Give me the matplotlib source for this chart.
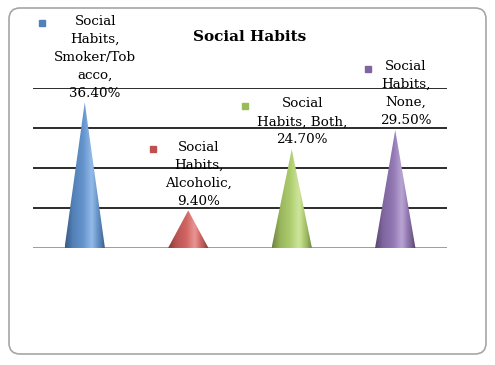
import matplotlib
matplotlib.use("Agg")
import matplotlib.pyplot as plt
import numpy as np
from matplotlib.patches import Polygon, FancyBboxPatch
from matplotlib.colors import to_rgb
from matplotlib.lines import Line2D

title = "Social Habits"
series_name = "Social Habits"
categories = ["Smoker/Tobacco", "Alcoholic", "Both", "None"]
values = [36.40, 9.40, 24.70, 29.50]
label_texts = [
    "Social\nHabits,\nSmoker/Tob\nacco,\n36.40%",
    "Social\nHabits,\nAlcoholic,\n9.40%",
    "Social\nHabits, Both,\n24.70%",
    "Social\nHabits,\nNone,\n29.50%",
]
colors = ["#4F81BD", "#C0504D", "#9BBB59", "#8064A2"]
grid_values = [10, 20, 30, 40]

W, H, DPI = 495, 365, 100
fig = plt.figure(figsize=(W / DPI, H / DPI), dpi=DPI)
fig.patch.set_facecolor("white")

# rounded outer frame (inches)
frame = FancyBboxPatch((0.09, (H - 354) / DPI), 4.77, 3.46,
                       boxstyle="round,pad=0,rounding_size=0.11",
                       transform=fig.dpi_scale_trans, facecolor="white",
                       edgecolor="#a6a6a6", linewidth=1.2, zorder=0)
fig.add_artist(frame)

ax = fig.add_axes([33 / W, 1 - 248 / H, (447 - 33) / W, (248 - 88) / H])
ax.set_facecolor("none")
ax.set_xlim(-0.5, len(values) - 0.5)
ax.set_ylim(0, 40)
for s in ax.spines.values():
    s.set_visible(False)
ax.set_xticks([])
ax.set_yticks([])

for g in grid_values:
    ax.axhline(g, color="#1a1a1a", lw=1.3, zorder=1)
ax.axhline(0, color="#8c8c8c", lw=1.2, zorder=1)

half = 0.195
t = np.linspace(0, 1, 200)
for i, (v, c) in enumerate(zip(values, colors)):
    base = np.array(to_rgb(c))
    shade = np.interp(t, [0, 0.2, 0.5, 0.68, 0.85, 1.0], [0.7, 0.95, 1.08, 1.15, 0.95, 0.65])
    light = np.interp(t, [0, 0.45, 0.65, 0.8, 1.0], [0, 0.1, 0.35, 0.12, 0])
    rgb = np.clip(base[None, :] * shade[:, None], 0, 1)
    rgb = rgb * (1 - light[:, None]) + light[:, None]
    img = np.tile(rgb[None, :, :], (2, 1, 1))
    poly = Polygon([(i - half, 0), (i, v), (i + half, 0)], closed=True,
                   transform=ax.transData, facecolor="none", edgecolor="none")
    ax.add_patch(poly)
    im = ax.imshow(img, extent=(i - half, i + half, 0, v), aspect="auto",
                   interpolation="bilinear", zorder=2)
    im.set_clip_path(poly)

ax.set_xlim(-0.5, len(values) - 0.5)
ax.set_ylim(0, 40)

fig.text(250 / W, 1 - 37 / H, title, ha="center", va="center",
         fontsize=11, fontweight="bold", family="DejaVu Serif")

texts = []
for i, (v, lab) in enumerate(zip(values, label_texts)):
    tx = ax.annotate(lab, xy=(i, v), xytext=(7.5, 2.0), textcoords="offset points",
                     ha="center", va="bottom", fontsize=9.7, family="DejaVu Serif",
                     linespacing=1.5, zorder=3, annotation_clip=False)
    texts.append(tx)

fig.canvas.draw()
renderer = fig.canvas.get_renderer()
inv = fig.transFigure.inverted()
for tx, c, lab in zip(texts, colors, label_texts):
    bb = tx.get_window_extent(renderer)
    nlines = lab.count("\n") + 1
    lh = bb.height / nlines
    px = bb.x0 - 12
    py = bb.y1 - lh / 2
    fx, fy = inv.transform((px, py))
    fig.add_artist(Line2D([fx], [fy], marker="s", markersize=5, color=c,
                          linestyle="none", transform=fig.transFigure))

fig.savefig("out.png", dpi=DPI, facecolor="white")
